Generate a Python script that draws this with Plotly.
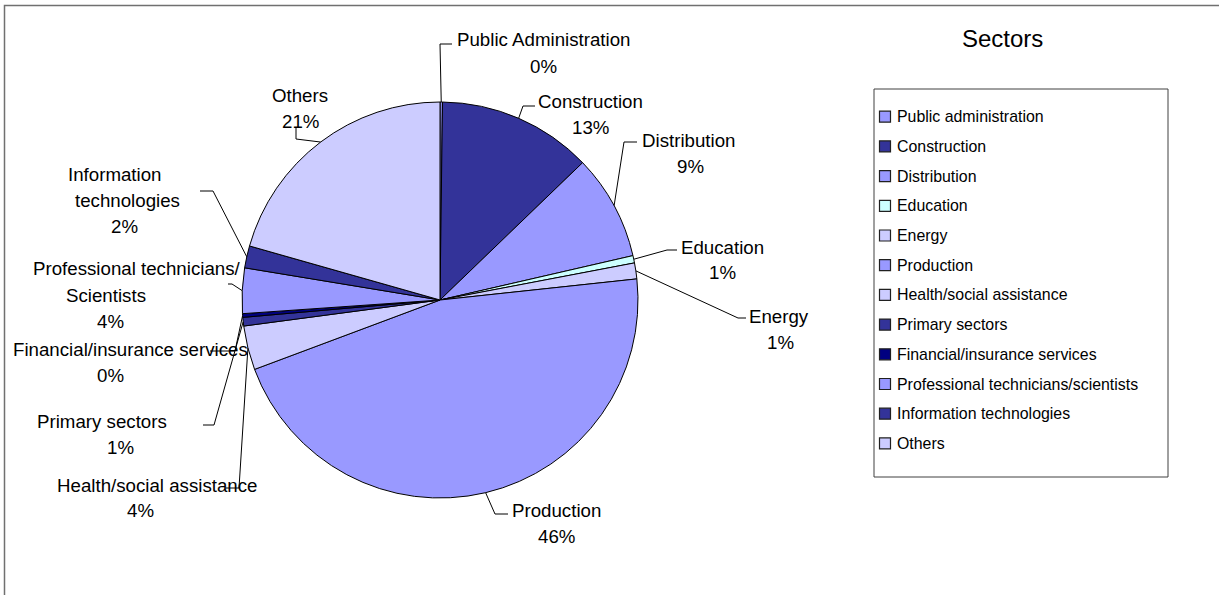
import math
import plotly.graph_objects as go

# ---- data -------------------------------------------------------------
sectors = [
    "Public administration", "Construction", "Distribution", "Education",
    "Energy", "Production", "Health/social assistance", "Primary sectors",
    "Financial/insurance services", "Professional technicians/scientists",
    "Information technologies", "Others",
]
# text printed next to each slice (may wrap onto several lines)
slice_labels = [
    ["Public Administration"], ["Construction"], ["Distribution"],
    ["Education"], ["Energy"], ["Production"], ["Health/social assistance"],
    ["Primary sectors"], ["Financial/insurance services"],
    ["Professional technicians/", "Scientists"],
    ["Information", "technologies"], ["Others"],
]
shares = [0.2, 12.6, 8.6, 0.6, 1.3, 46.0, 3.6, 0.7, 0.3, 3.7, 1.8, 20.6]

colors = [
    "#9999FF", "#333399", "#9999FF", "#CCFFFF", "#CCCCFF", "#9999FF",
    "#CCCCFF", "#333399", "#000080", "#9999FF", "#333399", "#CCCCFF",
]

# ---- layout constants (pixels) -----------------------------------------
W, H = 1219, 595
CX, CY, R = 440, 300, 198
LINE_STEP = 26
FAMILY = "Liberation Sans, Arial, sans-serif"
LABEL_FONT = dict(family=FAMILY, size=18.7, color="black")
LEGEND_FONT = dict(family=FAMILY, size=15.9, color="black")

# per slice: x centres of the name lines, y of first line, x of the percent
# line, leader-line elbow and end point
label_layout = [
    dict(xs=[543], y=40, px=543, elbow=(440, 44), end=(452, 44)),
    dict(xs=[590], y=101, px=590, elbow=(523, 106), end=(535, 106)),
    dict(xs=[688], y=140, px=690, elbow=(624, 142), end=(637, 142)),
    dict(xs=[722], y=247, px=722, elbow=(667, 250), end=(677, 250)),
    dict(xs=[779], y=316, px=780, elbow=(738, 318), end=(746, 318)),
    dict(xs=[556], y=510, px=556, elbow=(495, 514), end=(508, 514)),
    dict(xs=[157], y=485, px=140, elbow=(239, 488), end=(226, 488)),
    dict(xs=[102], y=421, px=120, elbow=(214, 425), end=(203, 425)),
    dict(xs=[130], y=349, px=110, elbow=(235, 351), end=(210, 351)),
    dict(xs=[137, 106], y=269, px=110, elbow=(232, 284), end=(228, 284)),
    dict(xs=[114, 127], y=174, px=124, elbow=(213, 191), end=(200, 191)),
    dict(xs=[300], y=96, px=300, elbow=(296, 139), end=(296, 128)),
]


def px(x):
    return x / W


def py(y):
    return 1 - y / H


fig = go.Figure(
    go.Pie(
        labels=sectors,
        values=shares,
        sort=False,
        direction="clockwise",
        rotation=0,
        textinfo="none",
        hoverinfo="label+percent",
        marker=dict(colors=colors, line=dict(color="black", width=1)),
        domain=dict(x=[px(CX - R), px(CX + R)], y=[py(CY + R), py(CY - R)]),
        showlegend=False,
    )
)

shapes = []
annotations = []

# ---- slice labels with leader lines ------------------------------------
total = sum(shares)
cum = 0.0
for name_lines, val, lay in zip(slice_labels, shares, label_layout):
    mid = (cum + val / 2) / total * 2 * math.pi
    cum += val
    ax = CX + R * math.sin(mid)
    ay = CY - R * math.cos(mid)
    ex, ey = lay["elbow"]
    tx, ty = lay["end"]
    shapes.append(dict(
        type="path", xref="paper", yref="paper",
        path=f"M {px(ax)} {py(ay)} L {px(ex)} {py(ey)} L {px(tx)} {py(ty)}",
        line=dict(color="black", width=1),
    ))
    y = lay["y"]
    for line, lx in zip(name_lines, lay["xs"]):
        annotations.append(dict(
            x=px(lx), y=py(y), xref="paper", yref="paper", text=line,
            showarrow=False, xanchor="center", yanchor="middle", font=LABEL_FONT,
        ))
        y += LINE_STEP
    pct = int(val / total * 100 + 0.5)
    annotations.append(dict(
        x=px(lay["px"]), y=py(y), xref="paper", yref="paper", text=f"{pct}%",
        showarrow=False, xanchor="center", yanchor="middle", font=LABEL_FONT,
    ))

# ---- legend -------------------------------------------------------------
LEG_BOX = (874, 89, 1168, 477)
LEG_Y0, LEG_STEP = 116.7, 29.7
shapes.append(dict(
    type="rect", xref="paper", yref="paper",
    x0=px(LEG_BOX[0]), y0=py(LEG_BOX[1]), x1=px(LEG_BOX[2]), y1=py(LEG_BOX[3]),
    line=dict(color="#404040", width=1), fillcolor="white", layer="below",
))
for i, (name, col) in enumerate(zip(sectors, colors)):
    yc = LEG_Y0 + i * LEG_STEP
    shapes.append(dict(
        type="rect", xref="paper", yref="paper",
        x0=px(879.5), y0=py(yc - 5.5), x1=px(890.5), y1=py(yc + 5.5),
        line=dict(color="#202020", width=1.2), fillcolor=col,
    ))
    annotations.append(dict(
        x=px(894.5), y=py(yc), xref="paper", yref="paper", text=name,
        showarrow=False, xanchor="left", yanchor="middle", font=LEGEND_FONT,
    ))

annotations.append(dict(
    x=px(1002), y=py(39), xref="paper", yref="paper", text="Sectors",
    showarrow=False, xanchor="center", yanchor="middle",
    font=dict(family=FAMILY, size=24, color="black"),
))

# outer chart frame (runs off the right and bottom edges)
shapes.append(dict(
    type="rect", xref="paper", yref="paper",
    x0=px(4.5), y0=py(5.5), x1=px(W + 20), y1=py(H + 20),
    line=dict(color="#707070", width=1.5), layer="below",
))

fig.update_layout(
    width=W, height=H,
    margin=dict(l=0, r=0, t=0, b=0),
    paper_bgcolor="white", plot_bgcolor="white",
    shapes=shapes, annotations=annotations,
)

fig.write_html("out.html")
